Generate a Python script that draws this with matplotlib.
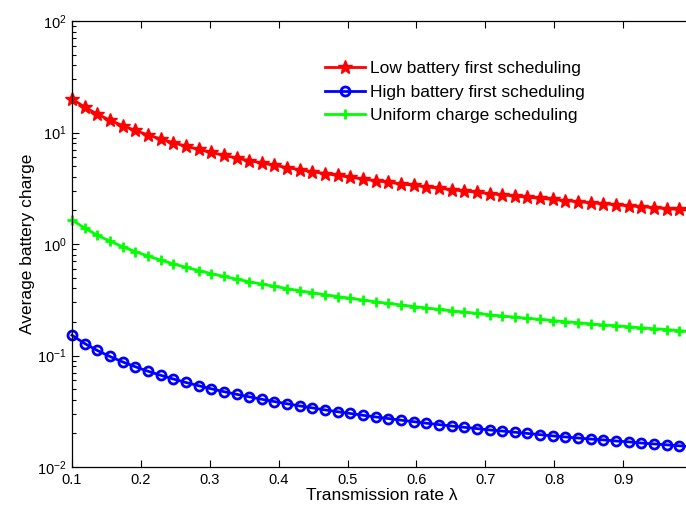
import matplotlib
matplotlib.use("Agg")
import matplotlib.pyplot as plt
from matplotlib.ticker import LogLocator, FixedLocator

plt.rcParams['font.family'] = ['Liberation Sans', 'DejaVu Sans']
plt.rcParams['mathtext.fontset'] = 'custom'
plt.rcParams['mathtext.rm'] = 'Liberation Sans'
plt.rcParams['mathtext.it'] = 'Liberation Sans:italic'

rate = [0.1000, 0.1184, 0.1367, 0.1551, 0.1735, 0.1918, 0.2102, 0.2286, 0.2469, 0.2653,
        0.2837, 0.3020, 0.3204, 0.3388, 0.3571, 0.3755, 0.3939, 0.4122, 0.4306, 0.4490,
        0.4673, 0.4857, 0.5041, 0.5224, 0.5408, 0.5592, 0.5776, 0.5959, 0.6143, 0.6327,
        0.6510, 0.6694, 0.6878, 0.7061, 0.7245, 0.7429, 0.7612, 0.7796, 0.7980, 0.8163,
        0.8347, 0.8531, 0.8714, 0.8898, 0.9082, 0.9265, 0.9449, 0.9633, 0.9816, 1.0000]

low_first = [20.00, 16.90, 14.63, 12.89, 11.53, 10.43, 9.51, 8.75, 8.10, 7.54,
             7.05, 6.62, 6.24, 5.90, 5.60, 5.33, 5.08, 4.85, 4.64, 4.45,
             4.28, 4.12, 3.97, 3.83, 3.70, 3.58, 3.46, 3.36, 3.26, 3.16,
             3.07, 2.99, 2.91, 2.83, 2.76, 2.69, 2.63, 2.57, 2.51, 2.45,
             2.40, 2.34, 2.30, 2.25, 2.20, 2.16, 2.12, 2.08, 2.04, 2.00]

high_first = [0.152, 0.128, 0.111, 0.098, 0.0876, 0.0793, 0.0723, 0.0665, 0.0616, 0.0573,
              0.0536, 0.0503, 0.0474, 0.0449, 0.0426, 0.0405, 0.0386, 0.0369, 0.0353, 0.0339,
              0.0325, 0.0313, 0.0302, 0.0291, 0.0281, 0.0272, 0.0263, 0.0255, 0.0247, 0.0240,
              0.0233, 0.0227, 0.0221, 0.0215, 0.0210, 0.0205, 0.0200, 0.0195, 0.0190, 0.0186,
              0.0182, 0.0178, 0.0175, 0.0171, 0.0168, 0.0164, 0.0161, 0.0158, 0.0155, 0.0152]

uniform = [1.64, 1.39, 1.20, 1.06, 0.945, 0.855, 0.780, 0.718, 0.664, 0.618,
           0.578, 0.543, 0.512, 0.484, 0.459, 0.437, 0.417, 0.398, 0.381, 0.365,
           0.351, 0.338, 0.326, 0.314, 0.303, 0.293, 0.284, 0.275, 0.267, 0.259,
           0.252, 0.245, 0.239, 0.232, 0.226, 0.221, 0.215, 0.211, 0.206, 0.201,
           0.197, 0.192, 0.188, 0.185, 0.181, 0.177, 0.174, 0.171, 0.167, 0.164]

labels = ["Low battery first scheduling", "High battery first scheduling",
          "Uniform charge scheduling"]
xticks = [0.1, 0.2, 0.3, 0.4, 0.5, 0.6, 0.7, 0.8, 0.9]

W, H = 686, 511
fig = plt.figure(figsize=(W / 100, H / 100), dpi=100)
left, right, top, bottom = 72, 692, 21, 467
ax = fig.add_axes([left / W, 1 - bottom / H, (right - left) / W, (bottom - top) / H])

ax.plot(rate, low_first, color='#ff0000', lw=2.0, marker='*', ms=10.5,
        mec='#ff0000', mfc='#ff0000', label=labels[0], clip_on=False)
ax.plot(rate, high_first, color='#0000ff', lw=2.0, marker='o', ms=6.5,
        mec='#0000ff', mfc='none', mew=2.0, label=labels[1], clip_on=False)
ax.plot(rate, uniform, color='#00ff00', lw=2.0, marker='+', ms=7,
        mec='#00ff00', mew=2.0, label=labels[2], clip_on=False)

ax.set_yscale('log')
ax.set_ylim(1e-2, 1e2)
ax.set_xlim(0.1, 1.0)
ax.xaxis.set_major_locator(FixedLocator(xticks))
ax.set_xticklabels([f"{v:g}" for v in xticks])
ax.yaxis.set_major_locator(LogLocator(base=10, numticks=10))
ax.yaxis.set_minor_locator(LogLocator(base=10, subs=range(2, 10), numticks=10))

ax.tick_params(which='both', direction='in', top=True, right=False, labelsize=10.5,
               colors='black', width=0.8)
ax.tick_params(which='major', length=5, pad=4)
ax.tick_params(which='minor', length=3)
for s in ax.spines.values():
    s.set_linewidth(0.9)

ax.set_xlabel("Transmission rate λ", fontsize=12.5, labelpad=1)
ax.set_ylabel("Average battery charge", fontsize=12.5, labelpad=1)

leg = ax.legend(loc='upper left', bbox_to_anchor=((325 - left) / (right - left), 1 - 40 / (bottom - top)),
                frameon=False, fontsize=12.5, handlelength=2.3, handletextpad=0.3,
                labelspacing=0.48, borderaxespad=0, borderpad=0)

fig.savefig("out.png", dpi=100)
